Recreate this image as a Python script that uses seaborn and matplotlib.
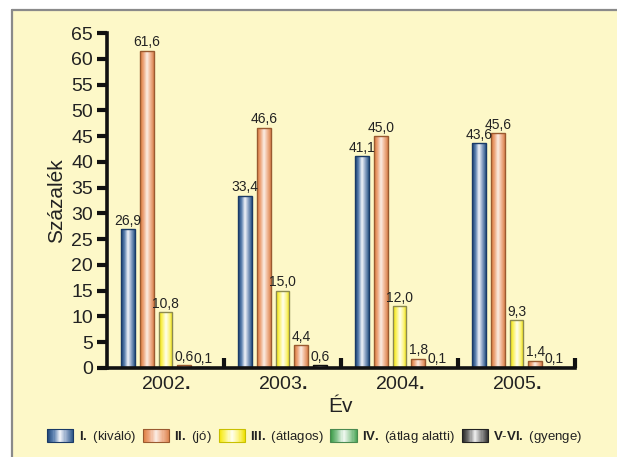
import numpy as np
import pandas as pd
import matplotlib
matplotlib.use("Agg")
import matplotlib.pyplot as plt
import seaborn as sns
from matplotlib.colors import LinearSegmentedColormap
from matplotlib.patches import Rectangle
from matplotlib.lines import Line2D
from matplotlib.legend_handler import HandlerBase

# data
years = ["2002", "2003", "2004", "2005"]
categories = ["I. (kiváló)", "II. (jó)", "III. (átlagos)", "IV. (átlag alatti)", "V-VI. (gyenge)"]
kivalo = [26.9, 33.4, 41.1, 43.6]
jo = [61.6, 46.6, 45.0, 45.6]
atlagos = [10.8, 15.0, 12.0, 9.3]
atlag_alatti = [0.6, 4.4, 1.8, 1.4]
gyenge = [0.1, 0.6, 0.1, 0.1]
y_ticks = list(range(0, 70, 5))

series = [kivalo, jo, atlagos, atlag_alatti, gyenge]
df = pd.DataFrame({
    "Év": [y for _ in categories for y in years],
    "Kategória": [c for c in categories for _ in years],
    "Százalék": [v for s in series for v in s],
})

bg = "#fdf8c8"
# gradient stops (left edge, highlight, right edge) for each kind of bar
grad_blue = ["#173f73", "#5a7fae", "#f4f6fb", "#8aa2c4", "#2c5688"]
grad_orange = ["#dd7a3c", "#eda57c", "#fbeee6", "#f0b694", "#dc8450"]
grad_yellow = ["#f4e600", "#fbf36a", "#fffff0", "#fcf58a", "#efe000"]
grad_green = ["#3f9c4a", "#88c690", "#f2f9f2", "#a6d4aa", "#4aa556"]
grad_gray = ["#1e1e1e", "#6e6e6e", "#f0f0f0", "#909090", "#333333"]

# the 4th series is printed with the orange fill in the original chart
bar_grads = [grad_blue, grad_orange, grad_yellow, grad_orange, grad_gray]
legend_grads = [grad_blue, grad_orange, grad_yellow, grad_green, grad_gray]
bar_edges = ["#1a3a66", "#9a5a30", "#8c8a50", "#9a5a30", "#111111"]
legend_edges = ["#1a3a66", "#9a5a30", "#c8c000", "#4a8a50", "#222222"]

sns.set_style("white")
plt.rcParams["font.family"] = ["Liberation Sans", "DejaVu Sans"]
plt.rcParams["mathtext.fontset"] = "custom"
plt.rcParams["mathtext.rm"] = "Liberation Sans"
plt.rcParams["mathtext.bf"] = "Liberation Sans:bold"

fig = plt.figure(figsize=(6.17, 4.57), dpi=100, facecolor="white")
fig.add_artist(Rectangle((12 / 617, 0), 1, 1 - 10 / 457, transform=fig.transFigure,
                         facecolor=bg, edgecolor="none", zorder=-1))
fig.add_artist(Line2D([12 / 617, 1], [1 - 10 / 457] * 2, transform=fig.transFigure,
                      color="#8a8a8a", lw=1.6))
fig.add_artist(Line2D([12 / 617] * 2, [0, 1 - 10 / 457], transform=fig.transFigure,
                      color="#8a8a8a", lw=1.6))

ax = fig.add_axes([107 / 617, 1 - 368 / 457, (575 - 107) / 617, (368 - 33) / 457])
ax.set_facecolor("none")

sns.barplot(data=df, x="Év", y="Százalék", hue="Kategória", order=years,
            hue_order=categories, palette=["#ffffff"] * 5, width=0.8, gap=0.28,
            legend=False, ax=ax)

cmaps = [LinearSegmentedColormap.from_list(f"g{i}", g) for i, g in enumerate(bar_grads)]
grad = np.linspace(0, 1, 64).reshape(1, -1)
for i, cont in enumerate(ax.containers):
    for patch in cont:
        patch.set_facecolor("none")
        patch.set_edgecolor(bar_edges[i])
        patch.set_linewidth(1.0)
        x0, y0 = patch.get_x(), patch.get_y()
        w, h = patch.get_width(), patch.get_height()
        im = ax.imshow(grad, extent=[x0, x0 + w, y0, y0 + h], aspect="auto",
                       cmap=cmaps[i], interpolation="bilinear", zorder=0.9)
        im.set_clip_path(patch)
    ax.bar_label(cont, labels=[f"{v:.1f}".replace(".", ",") for v in series[i]],
                 padding=1, fontsize=10, color="#222222")

ax.set_xlim(-0.5, 3.5)
ax.set_ylim(0, 65)
ax.set_yticks(y_ticks)
ax.set_yticklabels([str(t) for t in y_ticks])
ax.set_xticks(range(len(years)))
ax.set_xticklabels([y + r"$\mathbf{.}$" for y in years])
ax.set_xticks([0.5, 1.5, 2.5, 3.5], minor=True)
ax.tick_params(axis="y", direction="out", length=7, width=3, color="#111111",
               labelsize=14, labelcolor="#222222", pad=3, left=True)
ax.tick_params(axis="x", which="major", length=0, labelsize=14,
               labelcolor="#222222", pad=6)
ax.tick_params(axis="x", which="minor", direction="in", length=7, width=3,
               color="#111111", bottom=True)

for side in ["top", "right"]:
    ax.spines[side].set_visible(False)
for side in ["left", "bottom"]:
    ax.spines[side].set_linewidth(2.6)
    ax.spines[side].set_color("#111111")

ax.set_ylabel("Százalék", fontsize=15, color="#222222", labelpad=4)
ax.set_xlabel("Év", fontsize=15, color="#222222", labelpad=3)


class GradientHandler(HandlerBase):
    def __init__(self, stops, edge):
        super().__init__()
        self.cmap = LinearSegmentedColormap.from_list("h", stops)
        self.edge = edge

    def create_artists(self, legend, orig_handle, xdescent, ydescent, width,
                       height, fontsize, trans):
        n = 24
        arts = []
        for k in range(n):
            r = Rectangle((-xdescent + width * k / n, -ydescent), width / n + 0.3,
                          height, facecolor=self.cmap((k + 0.5) / n),
                          edgecolor="none", transform=trans)
            arts.append(r)
        arts.append(Rectangle((-xdescent, -ydescent), width, height, facecolor="none",
                              edgecolor=self.edge, lw=0.8, transform=trans))
        return arts


def bold_roman(label):
    num, rest = label.split(" ", 1)
    return r"$\mathbf{" + num.replace("-", "\\text{-}") + "}$" + rest.join([" ", ""])


legend_labels = [bold_roman(c) for c in categories]
handles = [Rectangle((0, 0), 1, 1) for _ in categories]
handler_map = {h: GradientHandler(legend_grads[i], legend_edges[i])
               for i, h in enumerate(handles)}
fig.legend(handles, legend_labels, handler_map=handler_map, loc="center",
           bbox_to_anchor=(0.51, 1 - 437 / 457), ncol=5, frameon=False,
           fontsize=9.5, handlelength=2.0, handleheight=1.2, handletextpad=0.4,
           columnspacing=0.5, labelcolor="#222222")

fig.savefig("out.png", dpi=100, facecolor=fig.get_facecolor())
